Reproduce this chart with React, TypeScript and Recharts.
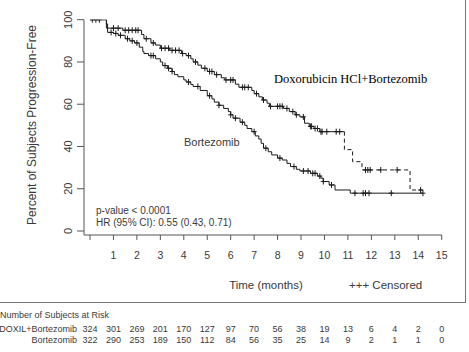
import React from 'react';
import { ComposedChart, Line, Scatter, XAxis, YAxis } from 'recharts';

// ---- data ----
const xTicks = [0, 1, 2, 3, 4, 5, 6, 7, 8, 9, 10, 11, 12, 13, 14, 15];
const yTicks = [0, 20, 40, 60, 80, 100];

// Doxorubicin HCl + Bortezomib (solid part)
const doxTimes = [0, 0.7, 0.75, 1.4, 2.2, 2.3, 2.6, 2.8, 3.0, 3.4, 3.9, 4.1, 4.3, 4.4, 4.6, 4.75, 5.0, 5.3, 5.6, 5.75, 6.2, 6.35, 6.9, 7.0, 7.2, 7.35, 7.55, 7.65, 8.25, 8.5, 8.75, 8.95, 9.15, 9.35, 9.55, 9.8, 10.85];
const doxSurv = [100, 98, 96, 95, 93, 91, 89, 88, 86.5, 85.5, 84, 83, 81.5, 80, 78.5, 77, 75.5, 74, 72.5, 71.5, 69.5, 68, 66.5, 65, 63.5, 62, 60.5, 59, 58, 56.5, 55, 54, 51, 49.5, 48.5, 47, 47];
// Doxorubicin HCl + Bortezomib (dashed tail)
const doxTailTimes = [10.85, 10.85, 11.2, 11.6, 13.65, 14.3];
const doxTailSurv = [47, 38.5, 32.8, 28.9, 19.4, 19.4];

// Bortezomib
const borTimes = [0, 0.7, 0.75, 1.0, 1.2, 1.5, 1.7, 1.9, 2.1, 2.25, 2.3, 2.5, 2.8, 3.0, 3.1, 3.3, 3.5, 3.6, 3.75, 4.0, 4.1, 4.3, 4.4, 4.7, 5.0, 5.2, 5.3, 5.5, 5.7, 5.9, 6.0, 6.1, 6.4, 6.6, 6.7, 6.9, 7.05, 7.2, 7.3, 7.4, 7.6, 7.75, 8.0, 8.2, 8.4, 8.55, 8.8, 8.95, 9.4, 9.7, 9.85, 9.95, 10.2, 10.45, 11.1, 14.2];
const borSurv = [100, 96, 94, 93.5, 92.6, 91, 90, 89, 87, 85, 84, 83, 81.5, 80, 78.3, 77, 75.5, 74, 73, 71.5, 70.5, 69.3, 68.4, 66.5, 64, 62.5, 61, 59.5, 58, 56.5, 55, 53.4, 51.5, 50, 48.5, 47, 45, 43.5, 41.5, 39.2, 37.5, 36, 34.5, 33.6, 32, 30.5, 29.2, 28.4, 27.3, 26, 25, 23.4, 21.8, 19.4, 17.9, 17.9];

// censoring times
const doxCensor = [0.1, 0.25, 0.4, 1.0, 1.2, 1.5, 1.65, 1.8, 1.95, 2.05, 2.4, 2.7, 3.05, 3.2, 3.35, 3.5, 3.65, 3.8, 3.95, 4.2, 4.5, 4.9, 5.1, 5.2, 5.4, 5.8, 6.0, 6.1, 6.5, 6.6, 6.75, 7.1, 7.4, 7.7, 8.0, 8.1, 8.2, 8.4, 8.65, 8.8, 9.1, 9.4, 9.45, 9.6, 9.7, 9.85, 9.9, 10.1, 10.5, 10.65, 11.75, 11.85, 11.95, 12.4, 13.1, 14.1];
const borCensor = [0.9, 1.1, 1.3, 1.6, 1.8, 2.0, 2.6, 2.7, 3.2, 3.35, 3.5, 4.2, 4.6, 5.1, 5.5, 6.0, 6.2, 6.5, 7.0, 7.5, 8.1, 8.7, 9.1, 9.3, 9.5, 9.6, 9.8, 9.95, 10.3, 11.3, 11.65, 11.75, 11.9, 12.85, 14.2];

const riskLabels = ['DOXIL+Bortezomib', 'Bortezomib'];
const riskDox = [324, 301, 269, 201, 170, 127, 97, 70, 56, 38, 19, 13, 6, 4, 2, 0];
const riskBor = [322, 290, 253, 189, 150, 112, 84, 56, 35, 25, 14, 9, 2, 1, 1, 0];

// ---- helpers ----
const toRows = (ts: number[], ss: number[]) => ts.map((t, i) => ({ t, s: ss[i] }));
const survAt = (ts: number[], ss: number[], t: number) => {
  let v = ss[0];
  for (let i = 0; i < ts.length; i++) if (ts[i] <= t) v = ss[i];
  return v;
};
const doxAllT = [...doxTimes, ...doxTailTimes.slice(1)];
const doxAllS = [...doxSurv, ...doxTailSurv.slice(1)];

const doxData = toRows(doxTimes, doxSurv);
const doxTailData = toRows(doxTailTimes, doxTailSurv);
const borData = toRows(borTimes, borSurv);
const doxCensorData = doxCensor.map((t) => ({ t, s: survAt(doxAllT, doxAllS, t) }));
const borCensorData = borCensor.map((t) => ({ t, s: survAt(borTimes, borSurv, t) }));

const FONT = 'Liberation Sans, Arial, sans-serif';
const TXT = '#3a3a3a';
const AX = '#555';
const CURVE = '#1a1a1a';
const RISK_Y1 = 331.5;
const RISK_Y2 = 343;

const Plus = (props: any) => {
  const { cx, cy } = props;
  if (cx == null || cy == null) return null;
  return <path d={`M${cx - 2.5},${cy}h5M${cx},${cy - 3}v6`} stroke={CURVE} strokeWidth={1} fill="none" />;
};

const XTick = (props: any) => {
  const { x, payload, index } = props;
  const v = payload.value;
  return (
    <g fontFamily={FONT} fill={TXT}>
      {v !== 0 && (
        <text x={x} y={258.5} textAnchor="middle" fontSize={10.5} fill={TXT}>
          {v}
        </text>
      )}
      <text x={x} y={RISK_Y1} textAnchor="middle" fontSize={9} fill={TXT}>
        {riskDox[index]}
      </text>
      <text x={x} y={RISK_Y2} textAnchor="middle" fontSize={9} fill={TXT}>
        {riskBor[index]}
      </text>
    </g>
  );
};

const YTick = (props: any) => {
  const { x, y, payload } = props;
  const tx = x - 5;
  return (
    <text x={tx} y={y} transform={`rotate(-90 ${tx} ${y})`} textAnchor="middle" fontSize={11} fontFamily={FONT} fill={TXT}>
      {payload.value}
    </text>
  );
};

export default function App() {
  return (
    <div style={{ position: 'absolute', left: 0, top: 0, width: 469, height: 352, background: '#fff' }}>
      <ComposedChart
        width={469}
        height={352}
        margin={{ top: 19.7, right: 27.3, bottom: 87, left: 24 }}
      >
        <XAxis
          dataKey="t"
          type="number"
          domain={[-0.256, 15]}
          ticks={xTicks}
          allowDataOverflow
          height={30}
          stroke={AX}
          tickSize={5}
          tick={<XTick />}
          interval={0}
        />
        <YAxis
          dataKey="s"
          type="number"
          domain={[-1.9, 100]}
          ticks={yTicks}
          allowDataOverflow
          width={60}
          stroke={AX}
          tickSize={7}
          tickMargin={0}
          tick={<YTick />}
          interval={0}
        />
        <Line data={borData} dataKey="s" type="stepAfter" stroke={CURVE} strokeWidth={1} dot={false} isAnimationActive={false} />
        <Line data={doxData} dataKey="s" type="stepAfter" stroke={CURVE} strokeWidth={1} dot={false} isAnimationActive={false} />
        <Line data={doxTailData} dataKey="s" type="stepAfter" stroke={CURVE} strokeWidth={1} strokeDasharray="4 3" dot={false} isAnimationActive={false} />
        <Scatter data={doxCensorData} dataKey="s" shape={<Plus />} isAnimationActive={false} />
        <Scatter data={borCensorData} dataKey="s" shape={<Plus />} isAnimationActive={false} />
      </ComposedChart>
      <svg width={469} height={352} style={{ position: 'absolute', left: 0, top: 0, pointerEvents: 'none' }}>
        <text x={36} y={125} transform="rotate(-90 36 125)" textAnchor="middle" fontSize={12} fontFamily={FONT} fill={TXT}>
          Percent of Subjects Progression-Free
        </text>
        <text x={274} y={83} fontSize={12.5} fontFamily="Liberation Serif, Times New Roman, serif" fill="#000">
          Doxorubicin HCl+Bortezomib
        </text>
        <text x={184} y={146} fontSize={11} fontFamily={FONT} fill={TXT}>
          Bortezomib
        </text>
        <text x={96} y={213.5} fontSize={10} fontFamily={FONT} fill={TXT}>
          p-value &lt; 0.0001
        </text>
        <text x={96} y={225.5} fontSize={10} fontFamily={FONT} fill={TXT}>
          HR (95% CI): 0.55 (0.43, 0.71)
        </text>
        <text x={266} y={289} textAnchor="middle" fontSize={11.5} fontFamily={FONT} fill={TXT}>
          Time (months)
        </text>
        <text x={349} y={289} fontSize={11.5} fontFamily={FONT} fill={TXT}>
          +++ Censored
        </text>
        <line x1={0} y1={302.5} x2={466} y2={302.5} stroke="#777" strokeWidth={1} />
        <line x1={465.5} y1={0} x2={465.5} y2={303} stroke="#777" strokeWidth={1} />
        <text x={0} y={318} fontSize={9} fontFamily={FONT} fill={TXT}>
          Number of Subjects at Risk
        </text>
        <text x={77} y={RISK_Y1} textAnchor="end" fontSize={9} fontFamily={FONT} fill={TXT}>
          {riskLabels[0]}
        </text>
        <text x={77} y={RISK_Y2} textAnchor="end" fontSize={9} fontFamily={FONT} fill={TXT}>
          {riskLabels[1]}
        </text>
      </svg>
    </div>
  );
}
